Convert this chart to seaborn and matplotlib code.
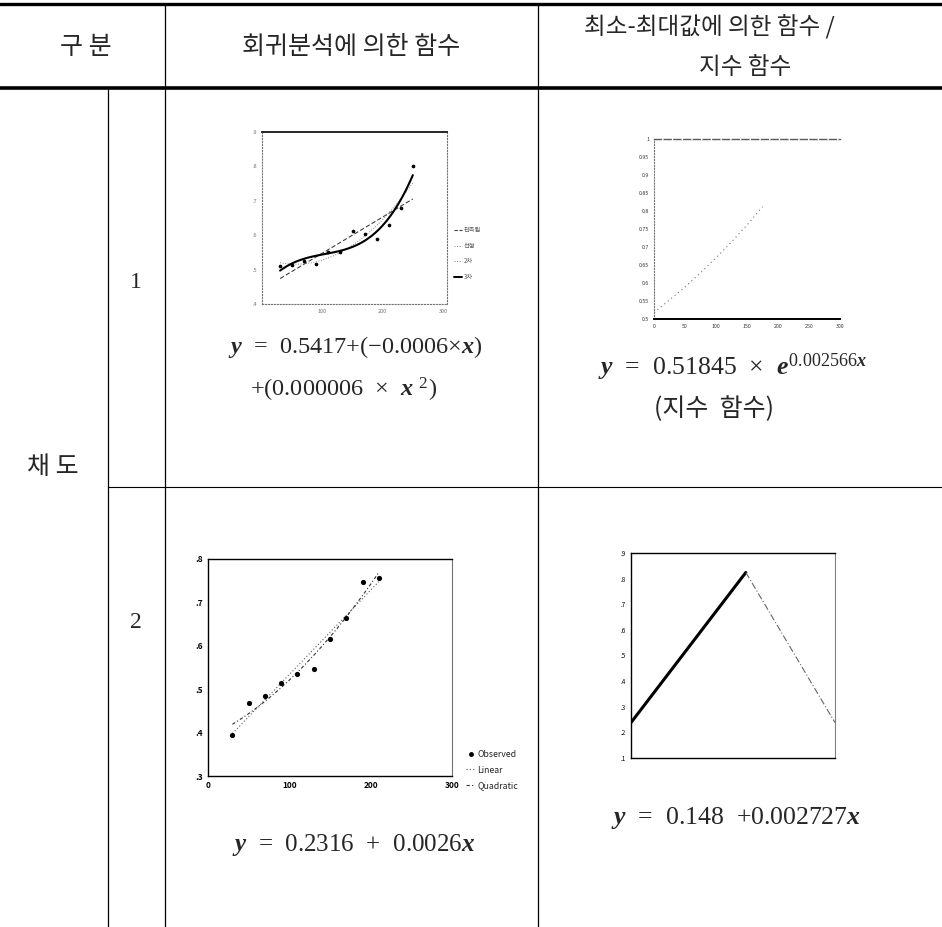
import numpy as np
import pandas as pd
import matplotlib
matplotlib.use("Agg")
import matplotlib.pyplot as plt
from matplotlib.lines import Line2D
import seaborn as sns

# ---------------- data ----------------
# chroma 1 : observed values and curve-estimation fits
c1_x = [30, 50, 70, 90, 110, 130, 150, 170, 190, 210, 230, 250]
c1_y = [0.510, 0.512, 0.524, 0.517, 0.551, 0.550, 0.611, 0.603, 0.590, 0.630, 0.679, 0.800]
c1_legend = ["관측됨", "선형", "2차", "3차"]
c1_yticks = [0.4, 0.5, 0.6, 0.7, 0.8, 0.9]
c1_yticklabels = [".4", ".5", ".6", ".7", ".8", ".9"]
c1_xticks = [100, 200, 300]

# chroma 1 : exponential (min-max) function
exp_x = [0, 25, 50, 75, 100, 125, 150, 175]
exp_y = [0.518, 0.553, 0.589, 0.628, 0.670, 0.714, 0.761, 0.812]
exp_xticks = [0, 50, 100, 150, 200, 250, 300]
exp_yticks = [0.5, 0.55, 0.6, 0.65, 0.7, 0.75, 0.8, 0.85, 0.9, 0.95, 1.0]
exp_yticklabels = ["0.5", "0.55", "0.6", "0.65", "0.7", "0.75", "0.8", "0.85", "0.9", "0.95", "1"]

# chroma 2 : observed values with linear / quadratic fits
c2_x = [30, 50, 70, 90, 110, 130, 150, 170, 190, 210]
c2_y = [0.395, 0.468, 0.485, 0.515, 0.535, 0.546, 0.616, 0.665, 0.747, 0.756]
c2_legend = ["Observed", "Linear", "Quadratic"]
c2_yticks = [0.3, 0.4, 0.5, 0.6, 0.7, 0.8]
c2_yticklabels = [".3", ".4", ".5", ".6", ".7", ".8"]
c2_xticks = [0, 100, 200, 300]

# chroma 2 : min-max function (rise to the maximum, then fall)
mm_x = [33, 248, 415]
mm_y = [0.238, 0.824, 0.238]
mm_yticks = [0.1, 0.2, 0.3, 0.4, 0.5, 0.6, 0.7, 0.8, 0.9]
mm_yticklabels = [".1", ".2", ".3", ".4", ".5", ".6", ".7", ".8", ".9"]

headers = ["구 분", "회귀분석에 의한 함수", "최소-최대값에 의한 함수 /", "지수 함수"]
row_group = "채 도"
row_ids = ["1", "2"]

# ---------------- style ----------------
sns.set_style("white")
plt.rcParams["font.family"] = ["Noto Sans CJK KR", "DejaVu Sans"]
plt.rcParams["mathtext.fontset"] = "custom"
plt.rcParams["mathtext.rm"] = "Liberation Serif"
plt.rcParams["mathtext.it"] = "Liberation Serif:italic:bold"
plt.rcParams["mathtext.bf"] = "Liberation Serif:bold"

W, H = 942, 927
fig = plt.figure(figsize=(W / 100, H / 100), dpi=100)
fig.patch.set_facecolor("white")


def hline(y, x0, x1, lw=1.0, color="black"):
    fig.add_artist(Line2D([x0 / W, x1 / W], [1 - y / H, 1 - y / H],
                          transform=fig.transFigure, color=color, lw=lw))


def vline(x, y0, y1, lw=1.0, color="black"):
    fig.add_artist(Line2D([x / W, x / W], [1 - y0 / H, 1 - y1 / H],
                          transform=fig.transFigure, color=color, lw=lw))


def ftext(x, y, s, **kw):
    fig.text(x / W, 1 - y / H, s, **kw)


def add_ax(left, top, right, bottom):
    return fig.add_axes([left / W, 1 - bottom / H, (right - left) / W, (bottom - top) / H])


# ---------------- table grid ----------------
hline(4, 0, 942, lw=2.4)
hline(88, 0, 942, lw=2.6)
hline(487, 108, 942, lw=0.8)
vline(165, 4, 927, lw=0.9)
vline(538, 4, 927, lw=0.9)
vline(108, 88, 927, lw=0.9)

kr = ["Noto Sans CJK KR", "DejaVu Sans"]
hdr = dict(ha="center", va="center", fontsize=18, family=kr, fontweight="medium")
ftext(86, 47, headers[0], **hdr)
ftext(351, 47, headers[1], **hdr)
ftext(709, 26, headers[2], **{**hdr, "fontsize": 17})
ftext(745, 67, headers[3], **{**hdr, "fontsize": 17})
ftext(53, 467, row_group, **hdr)
ftext(136, 283, row_ids[0], ha="center", va="center", fontsize=17, family="Liberation Serif")
ftext(136, 622, row_ids[1], ha="center", va="center", fontsize=17, family="Liberation Serif")

serif = "Liberation Serif"
ftext(228, 347, r"$y$  =  0.5417+(−0.0006×$x$)", ha="left", va="center", fontsize=17.5, family=serif)
ftext(250, 390, r"+(0.000006  ×  $x$ $^{2}$)", ha="left", va="center", fontsize=17.5, family=serif)
ftext(598, 367, r"$y$  =  0.51845  ×  $e^{0.002566x}$", ha="left", va="center", fontsize=18.5, family=serif)
ftext(714, 409, "(지수  함수)", ha="center", va="center", fontsize=18, family=kr)
ftext(232, 845, r"$y$  =  0.2316  +  0.0026$x$", ha="left", va="center", fontsize=18, family=serif)
ftext(611, 818, r"$y$  =  0.148  +0.002727$x$", ha="left", va="center", fontsize=18.5, family=serif)

# ---------------- chart: chroma 1 regression ----------------
ax1 = add_ax(262, 132, 447, 304)
d1 = pd.DataFrame({"x": c1_x, "y": c1_y})
sns.scatterplot(data=d1, x="x", y="y", ax=ax1, color="black", s=7, linewidth=0, zorder=4)
sns.regplot(data=d1, x="x", y="y", ax=ax1, order=1, ci=None, scatter=False,
            line_kws={"color": "0.25", "lw": 0.8, "ls": (0, (4, 2))})
sns.regplot(data=d1, x="x", y="y", ax=ax1, order=2, ci=None, scatter=False,
            line_kws={"color": "0.5", "lw": 0.7, "ls": ":"})
sns.regplot(data=d1, x="x", y="y", ax=ax1, order=3, ci=None, scatter=False,
            line_kws={"color": "black", "lw": 1.5, "ls": "-"})
ax1.set_xlim(0, 306.6)
ax1.set_ylim(0.4, 0.9)
ax1.set_xticks(c1_xticks)
ax1.set_yticks(c1_yticks)
ax1.set_yticklabels(c1_yticklabels)
ax1.set_xlabel("")
ax1.set_ylabel("")
ax1.tick_params(labelsize=4, length=1.5, pad=2, colors="0.45")
for side in ["left", "bottom", "right"]:
    ax1.spines[side].set_linestyle(":")
    ax1.spines[side].set_color("0.45")
    ax1.spines[side].set_linewidth(0.8)
ax1.spines["top"].set_color("0.15")
ax1.spines["top"].set_linewidth(1.4)
h1 = [Line2D([], [], color="0.25", lw=0.8, ls=(0, (3, 1.5))),
      Line2D([], [], color="0.5", lw=0.7, ls=":"),
      Line2D([], [], color="0.5", lw=0.7, ls=":"),
      Line2D([], [], color="black", lw=1.4)]
ax1.legend(h1, c1_legend, loc="upper left", bbox_to_anchor=(1.02, 0.47), frameon=False,
           fontsize=4.5, handlelength=1.3, handletextpad=0.3, labelspacing=1.2, borderpad=0,
           labelcolor="0.35")

# ---------------- chart: chroma 1 exponential ----------------
ax3 = add_ax(654, 139, 840, 319)
d3 = pd.DataFrame({"x": exp_x, "y": exp_y})
sns.lineplot(data=d3, x="x", y="y", ax=ax3, color="0.45", lw=0.8, ls=(0, (1, 3)))
ax3.set_xlim(0, 300)
ax3.set_ylim(0.5, 1.0)
ax3.set_xticks(exp_xticks)
ax3.set_yticks(exp_yticks)
ax3.set_yticklabels(exp_yticklabels)
ax3.set_xlabel("")
ax3.set_ylabel("")
ax3.tick_params(labelsize=3.8, length=1.5, pad=2, colors="0.2")
ax3.spines["right"].set_visible(False)
ax3.spines["left"].set_linestyle(":")
ax3.spines["left"].set_color("0.45")
ax3.spines["top"].set_linestyle((0, (5, 2)))
ax3.spines["top"].set_color("0.35")
ax3.spines["top"].set_linewidth(1.0)
ax3.spines["bottom"].set_color("black")
ax3.spines["bottom"].set_linewidth(1.4)

# ---------------- chart: chroma 2 regression ----------------
ax2 = add_ax(208, 559, 452, 776)
d2 = pd.DataFrame({"x": c2_x, "y": c2_y})
sns.scatterplot(data=d2, x="x", y="y", ax=ax2, color="black", s=14, linewidth=0, zorder=4)
sns.regplot(data=d2, x="x", y="y", ax=ax2, order=1, ci=None, scatter=False,
            line_kws={"color": "0.35", "lw": 0.8, "ls": (0, (1, 2))})
sns.regplot(data=d2, x="x", y="y", ax=ax2, order=2, ci=None, scatter=False,
            line_kws={"color": "0.2", "lw": 0.8, "ls": (0, (3, 2, 1, 2))})
ax2.set_xlim(0, 300)
ax2.set_ylim(0.3, 0.8)
ax2.set_xticks(c2_xticks)
ax2.set_yticks(c2_yticks)
ax2.set_yticklabels(c2_yticklabels)
ax2.set_xlabel("")
ax2.set_ylabel("")
ax2.tick_params(labelsize=6, length=2, pad=1.5, colors="black")
for lbl in ax2.get_yticklabels() + ax2.get_xticklabels():
    lbl.set_fontweight("bold")
for side in ["left", "bottom", "top"]:
    ax2.spines[side].set_color("black")
    ax2.spines[side].set_linewidth(1.0)
ax2.spines["right"].set_color("0.45")
ax2.spines["right"].set_linewidth(0.8)
h2 = [Line2D([], [], color="black", marker="o", ms=2.5, ls="none"),
      Line2D([], [], color="0.35", lw=0.8, ls=(0, (1, 2))),
      Line2D([], [], color="0.2", lw=0.8, ls=(0, (3, 2, 1, 2)))]
ax2.legend(h2, c2_legend, loc="upper left", bbox_to_anchor=(1.04, 0.14), frameon=False,
           fontsize=6.3, handlelength=1.0, handletextpad=0.3, labelspacing=0.75, borderpad=0)

# ---------------- chart: chroma 2 min-max ----------------
ax4 = add_ax(631, 553, 835, 758)
d4 = pd.DataFrame({"x": mm_x, "y": mm_y})
sns.lineplot(data=d4.iloc[:2], x="x", y="y", ax=ax4, color="black", lw=2.2)
sns.lineplot(data=d4.iloc[1:], x="x", y="y", ax=ax4, color="0.4", lw=0.8, ls=(0, (6, 2, 1, 2)))
ax4.set_xlim(mm_x[0], mm_x[-1])
ax4.set_ylim(0.1, 0.9)
ax4.set_xticks(mm_x)
ax4.set_xticklabels(["", "", ""])
ax4.set_yticks(mm_yticks)
ax4.set_yticklabels(mm_yticklabels)
ax4.set_xlabel("")
ax4.set_ylabel("")
ax4.tick_params(labelsize=4.5, length=2, pad=1.5, colors="black")
for side in ["left", "bottom", "top"]:
    ax4.spines[side].set_color("black")
    ax4.spines[side].set_linewidth(1.0)
ax4.spines["right"].set_color("0.5")
ax4.spines["right"].set_linewidth(0.8)

fig.savefig("out.png", dpi=100, facecolor="white")
